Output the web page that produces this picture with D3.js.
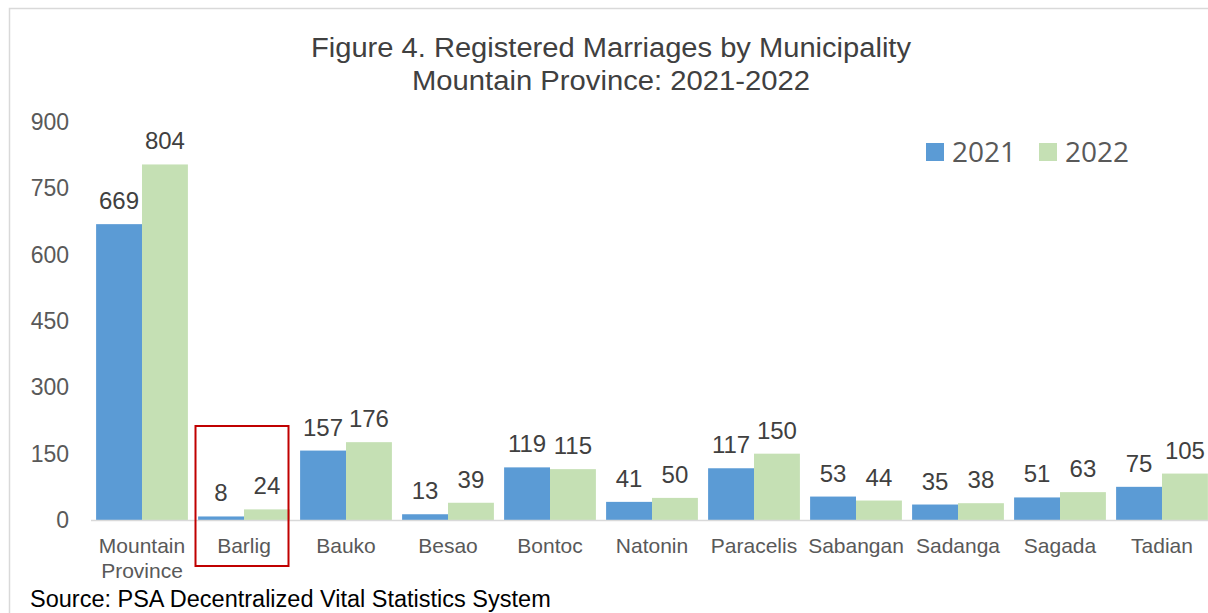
<!DOCTYPE html>
<html><head><meta charset="utf-8">
<script src="https://cdn.jsdelivr.net/npm/d3@7"></script>
<style>body{margin:0;background:#fff;}svg{display:block;}</style>
</head><body>
<svg id="c" width="1208" height="613"></svg>
<script>
const categories = ["Mountain Province","Barlig","Bauko","Besao","Bontoc","Natonin","Paracelis","Sabangan","Sadanga","Sagada","Tadian"];
const series2021 = [669,8,157,13,119,41,117,53,35,51,75];
const series2022 = [804,24,176,39,115,50,150,44,38,63,105];
const years = ["2021","2022"];
const yTicks = [0,150,300,450,600,750,900];
const colors = ["#5B9BD5","#C5E0B4"];

const svg = d3.select("#c");
const font = "'Liberation Sans', Arial, sans-serif";

// frame
svg.append("rect").attr("x",9.5).attr("y",8.5).attr("width",1230).attr("height",640)
  .attr("fill","#fff").attr("stroke","#d9d9d9").attr("stroke-width",1.5);

const x = d3.scaleBand().domain(categories).range([91,1213]).paddingInner(0.1).paddingOuter(0.05);
const y = d3.scaleLinear().domain([0,900]).range([520,122]);
const xs = d3.scaleBand().domain(years).range([0,x.bandwidth()]);

// title
svg.append("text").attr("x",611).attr("y",57).attr("text-anchor","middle")
  .attr("font-family",font).attr("font-size",27).attr("fill","#404040")
  .attr("textLength",600).attr("lengthAdjust","spacingAndGlyphs")
  .text("Figure 4. Registered Marriages by Municipality");
svg.append("text").attr("x",611).attr("y",90).attr("text-anchor","middle")
  .attr("font-family",font).attr("font-size",27).attr("fill","#404040")
  .attr("textLength",398).attr("lengthAdjust","spacingAndGlyphs")
  .text("Mountain Province: 2021-2022");

// y axis labels
const yAxis = d3.axisLeft(y).tickValues(yTicks).tickSize(0).tickPadding(0);
const gy = svg.append("g").attr("transform","translate(69,0)").call(yAxis);
gy.select(".domain").remove();
gy.selectAll("text").attr("font-family",font).attr("font-size",23).attr("fill","#595959");

// bars
const data = categories.map((c,i)=>({c, vals:[series2021[i],series2022[i]]}));
const groups = svg.append("g").selectAll("g").data(data).join("g")
  .attr("transform",d=>`translate(${x(d.c)},0)`);
groups.selectAll("rect").data(d=>d.vals.map((v,j)=>({v,j}))).join("rect")
  .attr("x",d=>xs(years[d.j])).attr("width",xs.bandwidth())
  .attr("y",d=>y(d.v)).attr("height",d=>y(0)-y(d.v))
  .attr("fill",d=>colors[d.j]);
groups.selectAll("text.val").data(d=>d.vals.map((v,j)=>({v,j}))).join("text")
  .attr("class","val")
  .attr("x",d=>xs(years[d.j])+xs.bandwidth()/2).attr("y",d=>y(d.v)-15)
  .attr("text-anchor","middle").attr("font-family",font).attr("font-size",24).attr("fill","#404040")
  .text(d=>d.v);

// baseline
svg.append("line").attr("x1",91).attr("x2",1208).attr("y1",y(0)+0.5).attr("y2",y(0)+0.5)
  .attr("stroke","#d9d9d9").attr("stroke-width",1.5);

// x axis labels
const xAxis = d3.axisBottom(x).tickSize(0).tickPadding(0);
const gx = svg.append("g").attr("transform",`translate(0,${y(0)})`).call(xAxis);
gx.select(".domain").remove();
gx.selectAll("text").each(function(d){
  const t = d3.select(this);
  t.text(null).attr("y",0).attr("dy",null)
   .attr("font-family",font).attr("font-size",21).attr("fill","#595959");
  const words = d==="Mountain Province" ? ["Mountain","Province"] : [d];
  words.forEach((w,i)=>t.append("tspan").attr("x",0).attr("y",33+i*25).text(w));
});

// legend
const legend = svg.append("g");
const lx = [926,1039];
years.forEach((yr,i)=>{
  legend.append("rect").attr("x",lx[i]).attr("y",143).attr("width",18).attr("height",18).attr("fill",colors[i]);
  legend.append("text").attr("x",lx[i]+26).attr("y",162).attr("font-family","'Open Sans', 'Carlito', sans-serif")
    .attr("font-size",28).attr("fill","#595959").text(yr);
});

// highlight box
svg.append("rect").attr("x",195.5).attr("y",426).attr("width",93).attr("height",140)
  .attr("fill","none").attr("stroke","#c00000").attr("stroke-width",2);

// source
svg.append("text").attr("x",30).attr("y",607).attr("font-family",font).attr("font-size",23.5)
  .attr("fill","#000").text("Source: PSA Decentralized Vital Statistics System");
</script>
</body></html>
